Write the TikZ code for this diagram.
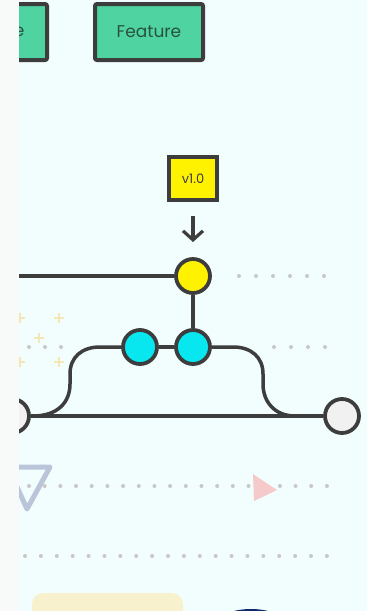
\documentclass[tikz,border=0pt]{standalone}
\usepackage{fontspec}
\setmainfont{Poppins}
\usetikzlibrary{arrows.meta}

\definecolor{bgcyan}{HTML}{F2FEFE}
\definecolor{stripgrey}{HTML}{F8F9F9}
\definecolor{inkgrey}{HTML}{3D3D3D}
\definecolor{boxgreen}{HTML}{4FD3A0}
\definecolor{boxtext}{HTML}{2A5242}
\definecolor{tagyellow}{HTML}{FFF200}
\definecolor{commitcyan}{HTML}{08E6F0}
\definecolor{commitgrey}{HTML}{F1F1F1}
\definecolor{dotgrey}{HTML}{C8C8C8}
\definecolor{plusyellow}{HTML}{F5E7B4}
\definecolor{triblue}{HTML}{BAC5DA}
\definecolor{tripink}{HTML}{F6C9CA}
\definecolor{padyellow}{HTML}{F7F2CD}
\definecolor{blobnavy}{HTML}{10296A}

\begin{document}
\begin{tikzpicture}[x=1pt,y=-1pt,
	branchbox/.style={draw=inkgrey,line width=4pt,fill=boxgreen,rounded corners=2pt,
		minimum width=108pt,minimum height=56pt,text=boxtext,font=\fontsize{17}{19}\selectfont},
	tagbox/.style={draw=inkgrey,line width=3.5pt,fill=tagyellow,minimum width=48pt,
		minimum height=43pt,text=inkgrey,font=\fontsize{13}{15}\selectfont},
	commit/.style={draw=inkgrey,line width=3.8pt,circle,minimum size=34pt,inner sep=0pt},
	branch/.style={draw=inkgrey,line width=3.5pt},
	dot/.style={fill=dotgrey}]
	\useasboundingbox (0,0) rectangle (367,611);
	\clip (0,0) rectangle (367,611);
	\fill[bgcyan] (0,0) rectangle (367,611);

	% faint decoration
	\foreach \px/\py in {20/318,59/318,39/338,20/362,59/362}
		\draw[plusyellow,line width=1.6pt] (\px-5,\py) -- (\px+5,\py) (\px,\py-5) -- (\px,\py+5);
	\foreach \px in {239,256,...,325} \fill[dot] (\px,276) circle (2);
	\foreach \px in {274,291,308,325} \fill[dot] (\px,347) circle (2);
	\foreach \px in {29,45,61} \fill[dot] (\px,347) circle (2);
	\draw[triblue,line width=5pt,line join=round] (8,467) -- (50,467) -- (27,509) -- cycle;
	\foreach \i in {0,...,19} \fill[dot] (29+15.68*\i,486) circle (2);
	\fill[tripink] (253,474) -- (277,490) -- (254,501) -- cycle;
	\foreach \i in {0,...,19} \fill[dot] (25+15.89*\i,556) circle (2);
	\fill[padyellow,rounded corners=11pt] (32,593) rectangle (183,630);
	\fill[blobnavy] (251,628) ellipse (38 and 19);

	% branch labels
	\node[branchbox,anchor=east] (mainbox) at (49,32) {};
	\node[text=boxtext,font=\fontsize{17}{19}\selectfont,anchor=east] (maintext) at (28,32) {e};
	\node[branchbox] (featbox) at (149,32) {Feature};

	% tag
	\node[tagbox] (tag) at (193,178.5) {v1.0};
	\coordinate (tagtop) at (193,216);
	\coordinate (tagtip) at (193,242);
	\draw[inkgrey,line width=3.2pt,-{Straight Barb[length=9pt,width=20pt,line width=3.2pt]}] (tagtop) -- (tagtip);

	% commits
	\node[commit,fill=tagyellow] (cY) at (193,276) {};
	\node[commit,fill=commitcyan] (cA) at (140,347) {};
	\node[commit,fill=commitcyan] (cB) at (193,347) {};
	\node[commit,fill=commitgrey] (cL) at (12,416) {};
	\node[commit,fill=commitgrey] (cR) at (342,416) {};
	\coordinate (topL) at (0,276);
	\coordinate (forkL) at (33,416);
	\coordinate (forkR) at (295,416);

	\draw[branch] (topL) -- (cY);
	\draw[branch] (cY) -- (cB);
	\draw[branch] (cL) -- (cR);
	\draw[branch] (cA) -- (cB);
	\draw[branch] (forkL) .. controls (58,416) and (70,402) .. (70,384) -- (70,374)
		.. controls (70,357) and (82,347) .. (100,347) -- (cA);
	\draw[branch] (cB) -- (233,347) .. controls (251,347) and (263,357) .. (263,374)
		-- (263,384) .. controls (263,402) and (275,416) .. (forkR);

	% left strip
	\fill[stripgrey] (0,0) rectangle (19,611);
\end{tikzpicture}
\end{document}
